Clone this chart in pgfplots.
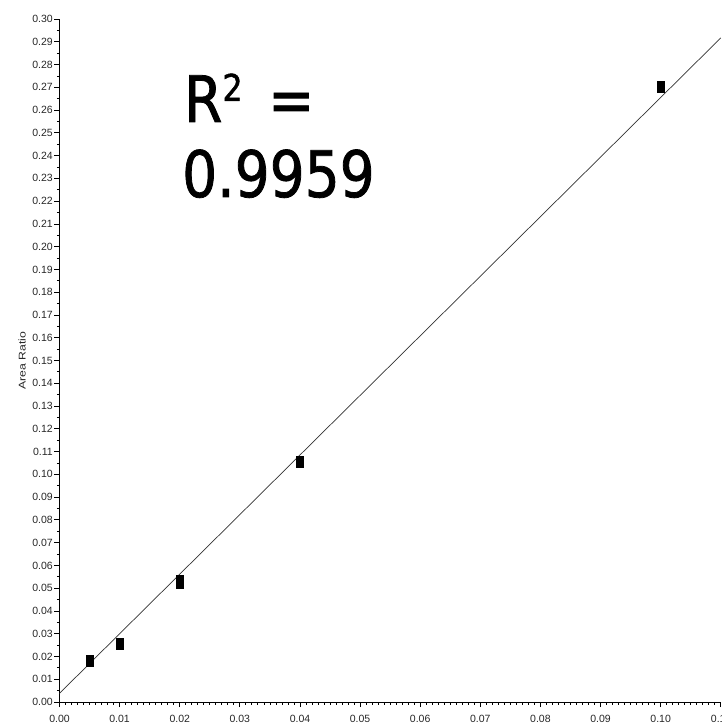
\documentclass[border=0pt]{standalone}
\usepackage{pgfplots}
\pgfplotsset{compat=1.18}
\usepackage{fontspec}
\setmainfont{Liberation Sans}
\newfontfamily\rfont[FakeStretch=0.86, FakeBold=1.2]{DejaVu Sans}

\begin{document}
\begin{tikzpicture}
\begin{axis}[
  scale only axis, width=661.3pt, height=683pt,
  xmin=0, xmax=0.11, ymin=0, ymax=0.30,
  axis x line=bottom, axis y line=left,
  axis line style={-, black, line width=0.8pt},
  xtick={0,0.01,0.02,0.03,0.04,0.05,0.06,0.07,0.08,0.09,0.10,0.11},
  ytick={0,0.01,0.02,0.03,0.04,0.05,0.06,0.07,0.08,0.09,0.10,
         0.11,0.12,0.13,0.14,0.15,0.16,0.17,0.18,0.19,0.20,
         0.21,0.22,0.23,0.24,0.25,0.26,0.27,0.28,0.29,0.30},
  minor x tick num=9, minor y tick num=1,
  tick align=outside,
  major tick length=5pt, minor tick length=2.5pt,
  every tick/.style={black, line width=0.8pt},
  scaled ticks=false,
  /pgf/number format/.cd, fixed, fixed zerofill, precision=2, assume math mode=true,
  /pgfplots/.cd,
  xticklabel style={font=\fontsize{10.5}{11}\selectfont, text=black!85, inner sep=0pt, anchor=north, yshift=-8pt},
  yticklabel style={font=\fontsize{10.5}{11}\selectfont, text=black!85, inner sep=0pt, anchor=east, xshift=-1.5pt},
  ylabel={\scalebox{1.25}[1]{Area Ratio}},
  every axis y label/.style={at={(axis description cs:-0.0567,0.5)}, rotate=90, anchor=center,
    font=\fontsize{9.8}{10}\selectfont, text=black!85, inner sep=0pt},
  clip=false,
]
% least-squares calibration line
\addplot[black!80, line width=0.7pt] coordinates {(0,0.0038) (0.11,0.2917)};
% measured standards
\addplot[only marks, mark=square*, mark size=5.5pt,
  mark options={xscale=0.64, fill=black, draw=none}] coordinates {
  (0.005,0.0182)
  (0.01,0.0257)
  (0.02,0.0525)
  (0.02,0.0534)
  (0.04,0.1056)
  (0.10,0.2701)
};
\end{axis}
\node[anchor=base west, inner sep=0pt] at (124.5pt,580pt)
  {\rfont\fontsize{64}{70}\selectfont R\raisebox{21pt}{\fontsize{37}{40}\selectfont 2}\hspace{0.4em}=};
\node[anchor=base west, inner sep=0pt] at (122.5pt,505pt)
  {\rfont\fontsize{64}{70}\selectfont 0.9959};
\pgfresetboundingbox
\path (-59.5pt,-22pt) rectangle (662.5pt,702pt);
\end{tikzpicture}
\end{document}
